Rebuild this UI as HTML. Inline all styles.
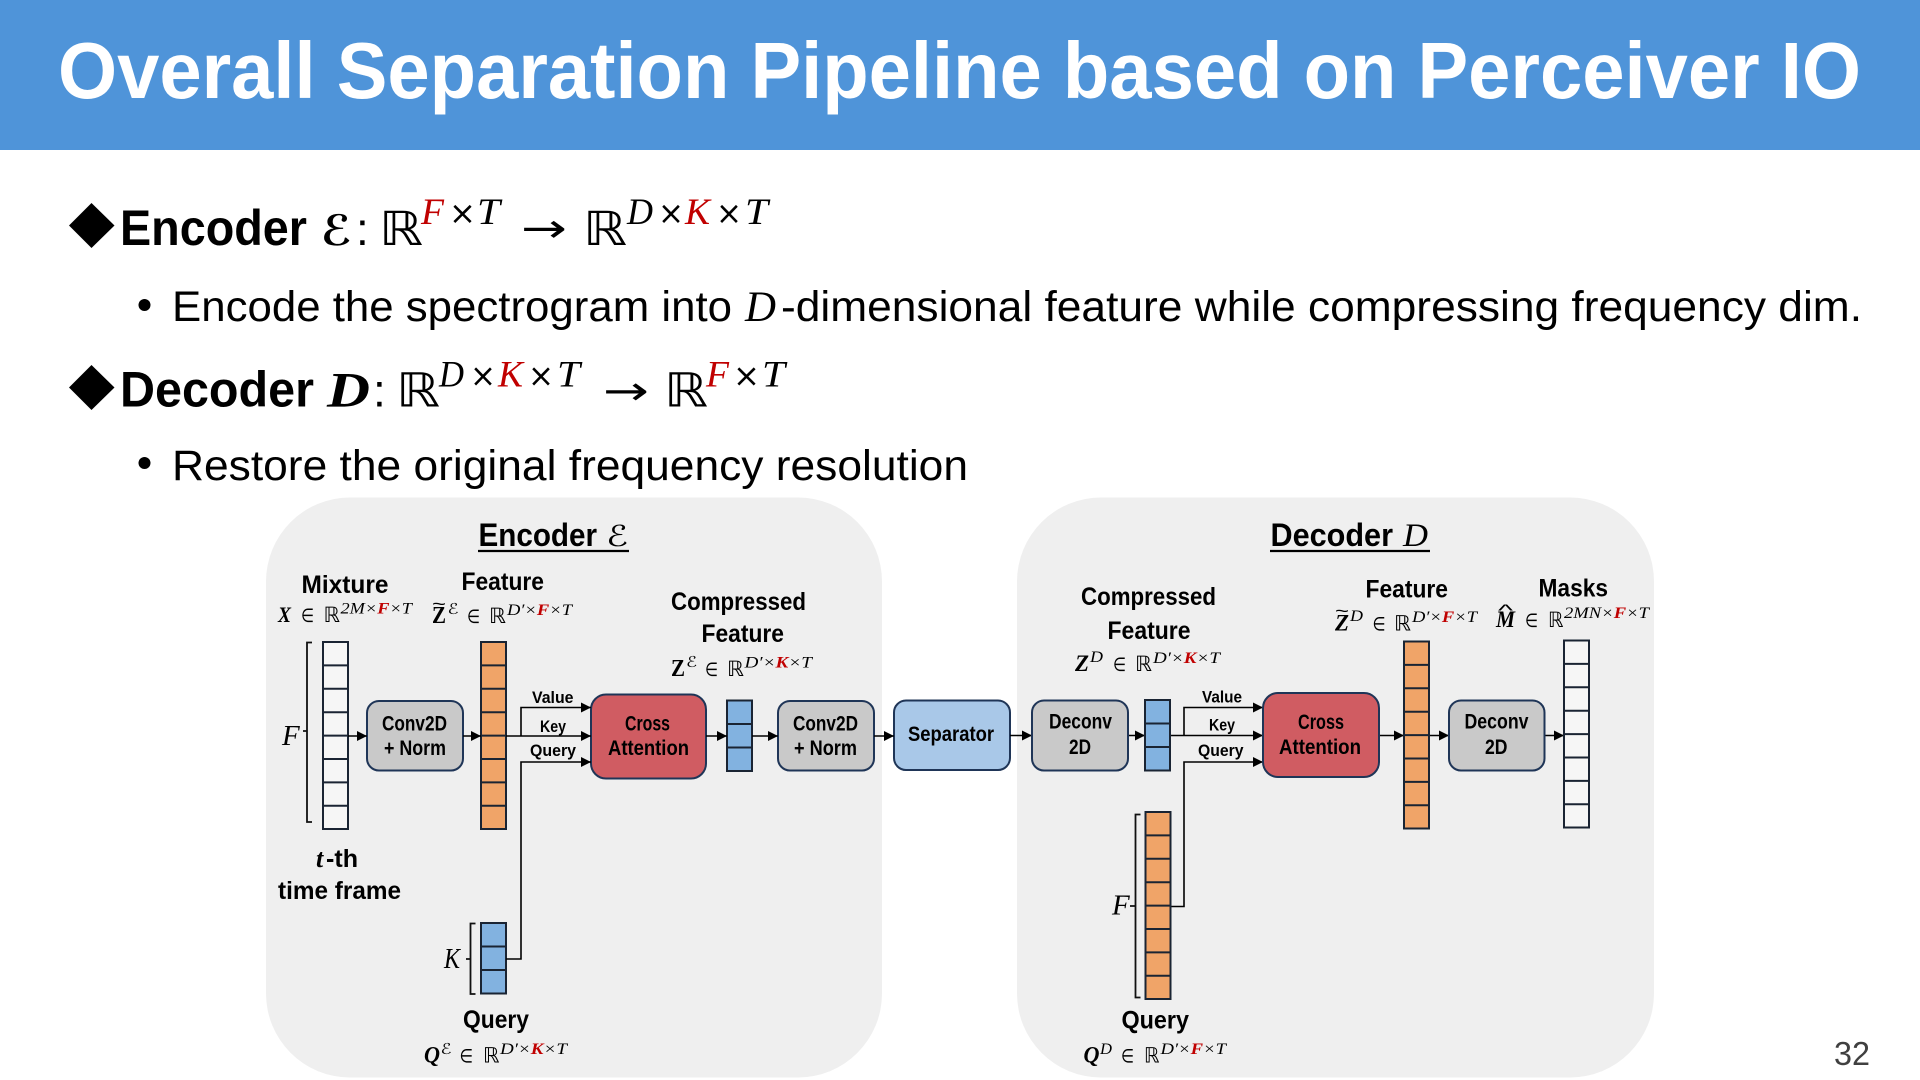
<!DOCTYPE html>
<html><head><meta charset="utf-8"><style>
html,body{margin:0;padding:0;background:#fff;width:1920px;height:1080px;overflow:hidden}
svg{display:block}
text{fill:#000;white-space:pre}
.s{font-family:"Liberation Sans",sans-serif}
.b{font-family:"Liberation Sans",sans-serif;font-weight:700}
.m{font-family:"Liberation Serif",serif;font-style:italic}
.mb{font-family:"Liberation Serif",serif;font-style:italic;font-weight:700}
.zb{font-family:"Liberation Serif",serif;font-weight:700}
.r{font-family:"DejaVu Sans",sans-serif}
.red{fill:#c00000}
.c{fill:none;stroke:#1a2433;stroke-width:2}
.k{fill:none;stroke:#111;stroke-width:1.8}
.box{stroke:#1f3557;stroke-width:2}
.lb{font-size:25px}.bx{font-size:21px}.kv{font-size:17px}
.sp{font-size:15.5px}.rr{font-size:19px}.el{font-size:19px}
</style></head><body>
<svg width="1920" height="1080" viewBox="0 0 1920 1080" xmlns="http://www.w3.org/2000/svg">
<defs>
<marker id="a" markerUnits="userSpaceOnUse" markerWidth="11" markerHeight="10" refX="10" refY="5" orient="auto"><path d="M0,0L10,5L0,10z" fill="#000"/></marker>
<g id="col8"><path d="M0,23.4H25M0,46.8H25M0,70.2H25M0,93.6H25M0,117H25M0,140.4H25M0,163.8H25" class="c"/><rect width="25" height="187" class="c"/></g>
<g id="col3"><path d="M0,23.5H25M0,47H25" class="c"/><rect width="25" height="70.5" class="c"/></g>
</defs>

<rect width="1920" height="150" fill="#4f94d9"/>
<text x="58" y="98" class="b" font-size="80" textLength="1803" lengthAdjust="spacingAndGlyphs" style="fill:#fff">Overall Separation Pipeline based on Perceiver IO</text>

<!-- bullet 1 -->
<path d="M91.5,203L114.5,225.5L91.5,248L69,225.5z" fill="#000"/>
<g transform="translate(0,-1)">
<text x="120" y="246" class="b" font-size="50" textLength="187" lengthAdjust="spacingAndGlyphs">Encoder</text>
<text x="321" y="246" class="r" font-size="42" font-weight="700" textLength="31" lengthAdjust="spacingAndGlyphs">ℰ</text>
<text x="356" y="246" class="s" font-size="46">:</text>
<text x="379" y="246" class="r" font-size="47" textLength="44" lengthAdjust="spacingAndGlyphs">ℝ</text>
<text x="421" y="225" class="m red" font-size="37" textLength="23" lengthAdjust="spacingAndGlyphs">F</text>
<text x="449" y="225" class="r" font-size="32" textLength="27" lengthAdjust="spacingAndGlyphs">×</text>
<text x="477" y="225" class="m" font-size="37" textLength="23" lengthAdjust="spacingAndGlyphs">T</text>
<text x="521" y="243" class="r" font-size="40" textLength="46" lengthAdjust="spacingAndGlyphs">→</text>
<text x="583" y="246" class="r" font-size="47" textLength="44" lengthAdjust="spacingAndGlyphs">ℝ</text>
<text x="627" y="225" class="m" font-size="37" textLength="26" lengthAdjust="spacingAndGlyphs">D</text>
<text x="658" y="225" class="r" font-size="32" textLength="26" lengthAdjust="spacingAndGlyphs">×</text>
<text x="685" y="225" class="m red" font-size="37" textLength="25" lengthAdjust="spacingAndGlyphs">K</text>
<text x="716" y="225" class="r" font-size="32" textLength="26" lengthAdjust="spacingAndGlyphs">×</text>
<text x="745" y="225" class="m" font-size="37" textLength="23" lengthAdjust="spacingAndGlyphs">T</text>

<text x="172" y="322" class="s" font-size="43" textLength="560" lengthAdjust="spacingAndGlyphs">Encode the spectrogram into</text>
<text x="745" y="322" class="m" font-size="43" textLength="31" lengthAdjust="spacingAndGlyphs">D</text>
<text x="781" y="322" class="s" font-size="43" textLength="1081" lengthAdjust="spacingAndGlyphs">-dimensional feature while compressing frequency dim.</text>
</g>
<circle cx="144.5" cy="305" r="6" fill="#000"/>

<!-- bullet 2 -->
<path d="M91.5,365L114.5,387.5L91.5,410L69,387.5z" fill="#000"/>
<g transform="translate(0,-0.5)">
<text x="120" y="407" class="b" font-size="50" textLength="194" lengthAdjust="spacingAndGlyphs">Decoder</text>
<text x="327" y="407" class="m" font-size="50" font-weight="700" textLength="43" lengthAdjust="spacingAndGlyphs">D</text>
<text x="373" y="407" class="s" font-size="46">:</text>
<text x="396" y="407" class="r" font-size="47" textLength="44" lengthAdjust="spacingAndGlyphs">ℝ</text>
<text x="439" y="387" class="m" font-size="37" textLength="25" lengthAdjust="spacingAndGlyphs">D</text>
<text x="470" y="387" class="r" font-size="32" textLength="26" lengthAdjust="spacingAndGlyphs">×</text>
<text x="498" y="387" class="m red" font-size="37" textLength="25" lengthAdjust="spacingAndGlyphs">K</text>
<text x="528" y="387" class="r" font-size="32" textLength="26" lengthAdjust="spacingAndGlyphs">×</text>
<text x="557" y="387" class="m" font-size="37" textLength="23" lengthAdjust="spacingAndGlyphs">T</text>
<text x="603" y="405" class="r" font-size="40" textLength="46" lengthAdjust="spacingAndGlyphs">→</text>
<text x="664" y="407" class="r" font-size="47" textLength="44" lengthAdjust="spacingAndGlyphs">ℝ</text>
<text x="706" y="387" class="m red" font-size="37" textLength="23" lengthAdjust="spacingAndGlyphs">F</text>
<text x="733" y="387" class="r" font-size="32" textLength="27" lengthAdjust="spacingAndGlyphs">×</text>
<text x="762" y="387" class="m" font-size="37" textLength="23" lengthAdjust="spacingAndGlyphs">T</text>
</g>

<circle cx="144.5" cy="463" r="6" fill="#000"/>
<text x="172" y="480" class="s" font-size="43" textLength="796" lengthAdjust="spacingAndGlyphs">Restore the original frequency resolution</text>

<!-- panels -->
<rect x="266" y="497.5" width="616" height="580" rx="84" fill="#efefef"/>
<rect x="1017" y="497.5" width="637" height="580" rx="84" fill="#efefef"/>

<text x="1834" y="1065" class="s" font-size="33" textLength="36" lengthAdjust="spacingAndGlyphs" style="fill:#404040">32</text>

<!-- Encoder title -->
<text x="478.5" y="546" class="b" font-size="32" textLength="118.5" lengthAdjust="spacingAndGlyphs">Encoder</text>
<text x="606" y="546" class="r" font-size="29" textLength="22" lengthAdjust="spacingAndGlyphs">ℰ</text>
<path d="M478,551H629" stroke="#000" stroke-width="2.2"/>
<!-- Decoder title -->
<text x="1270.5" y="546" class="b" font-size="32" textLength="122.5" lengthAdjust="spacingAndGlyphs">Decoder</text>
<text x="1403" y="546" class="m" font-size="33" textLength="25" lengthAdjust="spacingAndGlyphs">D</text>
<path d="M1270,551H1430" stroke="#000" stroke-width="2.2"/>

<!-- ENCODER columns -->
<rect x="323" y="642" width="25" height="187" fill="#f6f6f6"/><use href="#col8" x="323" y="642"/>
<rect x="481" y="642" width="25" height="187" fill="#f0a468"/><use href="#col8" x="481" y="642"/>
<rect x="727" y="700.5" width="25" height="70.5" fill="#82b2e0"/><use href="#col3" x="727" y="700.5"/>
<rect x="481" y="923" width="25" height="70.5" fill="#82b2e0"/><use href="#col3" x="481" y="923"/>

<!-- brackets -->
<path d="M312,642.5H307V822H312M307,731H303" class="k"/>
<path d="M475.5,923.5H470.5V994H475.5M470.5,959H466" class="k"/>
<path d="M1140.5,814.5H1135.5V997.5H1140.5M1135.5,906H1130" class="k"/>

<!-- Encoder boxes -->
<rect x="367" y="701" width="96" height="69.5" rx="12" fill="#c9c9c9" class="box"/>
<rect x="591" y="694.5" width="115" height="84" rx="15" fill="#d05c62" class="box"/>
<rect x="778" y="701" width="96" height="69.5" rx="12" fill="#c9c9c9" class="box"/>
<rect x="894" y="700.5" width="116" height="69.5" rx="12" fill="#a9c8e8" class="box"/>

<!-- connectors -->
<g fill="none" stroke="#000" stroke-width="1.6">
<path d="M348,736H367" marker-end="url(#a)"/>
<path d="M463,736H481" marker-end="url(#a)"/>
<path d="M506,736H591" marker-end="url(#a)"/>
<path d="M521,736V707.5H591" marker-end="url(#a)"/>
<path d="M506,959H521V762H591" marker-end="url(#a)"/>
<path d="M706,736H727" marker-end="url(#a)"/>
<path d="M752,736H778" marker-end="url(#a)"/>
<path d="M874,736H894" marker-end="url(#a)"/>
<path d="M1010,735.5H1032" marker-end="url(#a)"/>
<path d="M1128,735.5H1145" marker-end="url(#a)"/>
<path d="M1170,735.5H1263" marker-end="url(#a)"/>
<path d="M1184,735.5V707.5H1263" marker-end="url(#a)"/>
<path d="M1170,906.5H1184V762H1263" marker-end="url(#a)"/>
<path d="M1379,735.5H1404" marker-end="url(#a)"/>
<path d="M1429,735.5H1449" marker-end="url(#a)"/>
<path d="M1544,735.5H1564" marker-end="url(#a)"/>
</g>

<!-- Decoder boxes -->
<rect x="1032" y="700.5" width="96" height="70" rx="12" fill="#c9c9c9" class="box"/>
<rect x="1263" y="693" width="116" height="84" rx="15" fill="#d05c62" class="box"/>
<rect x="1449" y="700.5" width="95.5" height="70" rx="12" fill="#c9c9c9" class="box"/>

<!-- Decoder columns -->
<rect x="1145" y="700" width="25" height="70.5" fill="#82b2e0"/><use href="#col3" x="1145" y="700"/>
<rect x="1145.5" y="812" width="25" height="187" fill="#f0a468"/><use href="#col8" x="1145.5" y="812"/>
<rect x="1404" y="641.5" width="25" height="187" fill="#f0a468"/><use href="#col8" x="1404" y="641.5"/>
<rect x="1564" y="640.5" width="25" height="187" fill="#f6f6f6"/><use href="#col8" x="1564" y="640.5"/>

<g transform="translate(0,-1)">
<!-- Box text -->
<g class="b bx">
<text x="382" y="731.5" textLength="65" lengthAdjust="spacingAndGlyphs">Conv2D</text>
<text x="384" y="756" textLength="62" lengthAdjust="spacingAndGlyphs">+ Norm</text>
<text x="793" y="731.5" textLength="65" lengthAdjust="spacingAndGlyphs">Conv2D</text>
<text x="794" y="756" textLength="63" lengthAdjust="spacingAndGlyphs">+ Norm</text>
<text x="625" y="731.5" textLength="45" lengthAdjust="spacingAndGlyphs">Cross</text>
<text x="608" y="756" textLength="81" lengthAdjust="spacingAndGlyphs">Attention</text>
<text x="908" y="742" textLength="86" lengthAdjust="spacingAndGlyphs">Separator</text>
<text x="1049" y="729.5" textLength="63" lengthAdjust="spacingAndGlyphs">Deconv</text>
<text x="1069" y="755" textLength="22" lengthAdjust="spacingAndGlyphs">2D</text>
<text x="1298" y="730" textLength="46" lengthAdjust="spacingAndGlyphs">Cross</text>
<text x="1279" y="755" textLength="82" lengthAdjust="spacingAndGlyphs">Attention</text>
<text x="1464.5" y="729.5" textLength="64" lengthAdjust="spacingAndGlyphs">Deconv</text>
<text x="1485" y="755" textLength="22.5" lengthAdjust="spacingAndGlyphs">2D</text>
</g>

<!-- KV labels -->
<g class="s kv" style="font-weight:700">
<text x="532" y="704" textLength="41.5" lengthAdjust="spacingAndGlyphs">Value</text>
<text x="540" y="733" textLength="26" lengthAdjust="spacingAndGlyphs">Key</text>
<text x="530" y="757" textLength="46" lengthAdjust="spacingAndGlyphs">Query</text>
<text x="1202" y="703.5" textLength="40" lengthAdjust="spacingAndGlyphs">Value</text>
<text x="1209" y="731.5" textLength="26" lengthAdjust="spacingAndGlyphs">Key</text>
<text x="1198" y="757" textLength="45.5" lengthAdjust="spacingAndGlyphs">Query</text>
</g>

<!-- Bold labels -->
<g class="b lb">
<text x="301.5" y="594" textLength="87" lengthAdjust="spacingAndGlyphs">Mixture</text>
<text x="461.5" y="591" textLength="82.5" lengthAdjust="spacingAndGlyphs">Feature</text>
<text x="671" y="611" textLength="135" lengthAdjust="spacingAndGlyphs">Compressed</text>
<text x="701.5" y="643" textLength="82.5" lengthAdjust="spacingAndGlyphs">Feature</text>
<text x="278" y="900" textLength="123" lengthAdjust="spacingAndGlyphs">time frame</text>
<text x="463" y="1029" textLength="66" lengthAdjust="spacingAndGlyphs">Query</text>
<text x="1081" y="606" textLength="135" lengthAdjust="spacingAndGlyphs">Compressed</text>
<text x="1107.5" y="640" textLength="83" lengthAdjust="spacingAndGlyphs">Feature</text>
<text x="1365.5" y="598.5" textLength="82.5" lengthAdjust="spacingAndGlyphs">Feature</text>
<text x="1538.5" y="597.5" textLength="69.5" lengthAdjust="spacingAndGlyphs">Masks</text>
<text x="1121.5" y="1029.5" textLength="67.5" lengthAdjust="spacingAndGlyphs">Query</text>
<text x="326" y="868" textLength="32" lengthAdjust="spacingAndGlyphs">-th</text>
</g>
<text x="316" y="868" class="mb" font-size="26">t</text>

<!-- F, K side labels -->
<text x="282" y="746" class="m" font-size="29">F</text>
<text x="444" y="969" class="m" font-size="29" textLength="16" lengthAdjust="spacingAndGlyphs">K</text>
<text x="1112" y="915.5" class="m" font-size="29">F</text>

<!-- X -->
<text x="278" y="623" class="mb" font-size="22" textLength="13" lengthAdjust="spacingAndGlyphs">X</text>
<text x="301" y="623" class="r el" textLength="13" lengthAdjust="spacingAndGlyphs">∈</text>
<text x="323.5" y="623" class="r" font-size="21" textLength="16.5" lengthAdjust="spacingAndGlyphs">ℝ</text>
<text x="340.5" y="614.5" class="m sp" textLength="71.5" lengthAdjust="spacingAndGlyphs">2M×<tspan class="red" font-weight="700">F</tspan>×T</text>

<!-- Z~ E -->
<text x="432" y="624" class="zb" font-size="24" textLength="14" lengthAdjust="spacingAndGlyphs">Z</text>
<text x="432" y="611" class="s" font-size="18" textLength="14" lengthAdjust="spacingAndGlyphs">~</text>
<text x="447.5" y="615" class="r" font-size="15" textLength="11" lengthAdjust="spacingAndGlyphs">ℰ</text>
<text x="467" y="624" class="r el" textLength="13" lengthAdjust="spacingAndGlyphs">∈</text>
<text x="489" y="624" class="r" font-size="21" textLength="17" lengthAdjust="spacingAndGlyphs">ℝ</text>
<text x="507" y="616" class="m sp" textLength="65" lengthAdjust="spacingAndGlyphs">D′×<tspan class="red" font-weight="700">F</tspan>×T</text>

<!-- Z E -->
<text x="671" y="677" class="zb" font-size="24" textLength="14" lengthAdjust="spacingAndGlyphs">Z</text>
<text x="686" y="668" class="r" font-size="15" textLength="11" lengthAdjust="spacingAndGlyphs">ℰ</text>
<text x="705" y="677" class="r el" textLength="13" lengthAdjust="spacingAndGlyphs">∈</text>
<text x="727" y="677" class="r" font-size="21" textLength="17" lengthAdjust="spacingAndGlyphs">ℝ</text>
<text x="744.5" y="668.5" class="m sp" textLength="67.5" lengthAdjust="spacingAndGlyphs">D′×<tspan class="red" font-weight="700">K</tspan>×T</text>

<!-- Q E -->
<text x="424" y="1063.5" class="mb" font-size="23" textLength="16" lengthAdjust="spacingAndGlyphs">Q</text>
<text x="440.5" y="1055" class="r" font-size="15" textLength="11" lengthAdjust="spacingAndGlyphs">ℰ</text>
<text x="459.5" y="1063.5" class="r el" textLength="13.5" lengthAdjust="spacingAndGlyphs">∈</text>
<text x="483" y="1063.5" class="r" font-size="21" textLength="16.5" lengthAdjust="spacingAndGlyphs">ℝ</text>
<text x="500" y="1055" class="m sp" textLength="67" lengthAdjust="spacingAndGlyphs">D′×<tspan class="red" font-weight="700">K</tspan>×T</text>

<!-- Z D -->
<text x="1075" y="672" class="mb" font-size="23" textLength="14" lengthAdjust="spacingAndGlyphs">Z</text>
<text x="1090" y="663" class="m" font-size="16" textLength="13" lengthAdjust="spacingAndGlyphs">D</text>
<text x="1113" y="672" class="r el" textLength="13" lengthAdjust="spacingAndGlyphs">∈</text>
<text x="1135" y="672" class="r" font-size="21" textLength="17" lengthAdjust="spacingAndGlyphs">ℝ</text>
<text x="1153" y="664" class="m sp" textLength="67" lengthAdjust="spacingAndGlyphs">D′×<tspan class="red" font-weight="700">K</tspan>×T</text>

<!-- Z~ D -->
<text x="1335" y="631.5" class="mb" font-size="23" textLength="14" lengthAdjust="spacingAndGlyphs">Z</text>
<text x="1335" y="618" class="s" font-size="18" textLength="14" lengthAdjust="spacingAndGlyphs">~</text>
<text x="1350" y="622" class="m" font-size="16" textLength="13" lengthAdjust="spacingAndGlyphs">D</text>
<text x="1372.5" y="631.5" class="r el" textLength="13" lengthAdjust="spacingAndGlyphs">∈</text>
<text x="1394" y="631.5" class="r" font-size="21" textLength="17" lengthAdjust="spacingAndGlyphs">ℝ</text>
<text x="1412" y="623" class="m sp" textLength="65" lengthAdjust="spacingAndGlyphs">D′×<tspan class="red" font-weight="700">F</tspan>×T</text>

<!-- M^ -->
<text x="1496" y="628" class="mb" font-size="23" textLength="19" lengthAdjust="spacingAndGlyphs">M</text>
<text x="1498" y="617" class="s" font-size="17" textLength="15" lengthAdjust="spacingAndGlyphs">^</text>
<text x="1525" y="628" class="r el" textLength="13" lengthAdjust="spacingAndGlyphs">∈</text>
<text x="1548" y="628" class="r" font-size="21" textLength="15.5" lengthAdjust="spacingAndGlyphs">ℝ</text>
<text x="1564" y="619" class="m sp" textLength="85" lengthAdjust="spacingAndGlyphs">2MN×<tspan class="red" font-weight="700">F</tspan>×T</text>

<!-- Q D -->
<text x="1083.5" y="1063.5" class="mb" font-size="23" textLength="16" lengthAdjust="spacingAndGlyphs">Q</text>
<text x="1100" y="1055" class="m" font-size="16" textLength="12" lengthAdjust="spacingAndGlyphs">D</text>
<text x="1121" y="1063.5" class="r el" textLength="13" lengthAdjust="spacingAndGlyphs">∈</text>
<text x="1144" y="1063.5" class="r" font-size="21" textLength="15.5" lengthAdjust="spacingAndGlyphs">ℝ</text>
<text x="1160.5" y="1055" class="m sp" textLength="65.5" lengthAdjust="spacingAndGlyphs">D′×<tspan class="red" font-weight="700">F</tspan>×T</text>
</g>
</svg>
</body></html>
